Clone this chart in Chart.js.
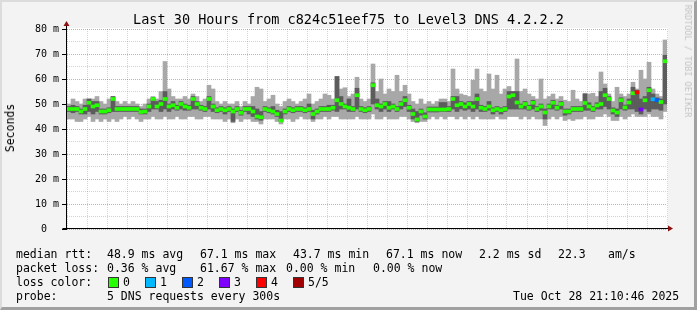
<!DOCTYPE html>
<html>
<head>
<meta charset="utf-8">
<script src="https://cdn.jsdelivr.net/npm/chart.js@4.4.0/dist/chart.umd.min.js"></script>
<style>
  body { margin: 0; background: #fff; }
  #wrap { position: relative; width: 697px; height: 310px; background: #f3f3f3; overflow: hidden;
          font-family: "DejaVu Sans Mono", monospace; color: #000; }
  #frame { position: absolute; left: 0; top: 0; width: 697px; height: 310px; box-sizing: border-box;
           border-top: 2px solid #dcdcdc; border-left: 2px solid #dcdcdc;
           border-right: 3px solid #a0a0a0; border-bottom: 3px solid #a0a0a0; pointer-events: none; }
  canvas { position: absolute; left: 0; top: 0; }
  .t { position: absolute; white-space: pre; font-size: 11.5px; line-height: 14px; }
  #title { position: absolute; left: 0; top: 11px; width: 697px; text-align: center; font-size: 13.5px; line-height: 16px; }
  #ylab { position: absolute; left: 10px; top: 127.5px; font-size: 11.5px; line-height: 14px; white-space: pre;
          transform: translate(-50%, -50%) rotate(-90deg); }
  #credit { position: absolute; left: 687.5px; top: 61px; font-size: 8.5px; line-height: 10px; white-space: pre; color: #c4c4c4;
            transform: translate(-50%, -50%) rotate(90deg); }
  .box { position: absolute; width: 9px; height: 9px; border: 1px solid #333; top: 277px; }
</style>
</head>
<body>
<div id="wrap">
  <canvas id="smoke" width="697" height="310"></canvas>
  <div id="title">Last 30 Hours from c824c51eef75 to Level3 DNS 4.2.2.2</div>
  <div id="ylab">Seconds</div>
  <div id="credit">RRDTOOL / TOBI OETIKER</div>

  <div class="t" style="left:16px;top:247px">median rtt:</div>
  <div class="t" style="left:107px;top:247px">48.9 ms avg</div>
  <div class="t" style="left:200px;top:247px">67.1 ms max</div>
  <div class="t" style="left:293px;top:247px">43.7 ms min</div>
  <div class="t" style="left:386px;top:247px">67.1 ms now</div>
  <div class="t" style="left:479px;top:247px">2.2 ms sd</div>
  <div class="t" style="left:558px;top:247px">22.3</div>
  <div class="t" style="left:608px;top:247px">am/s</div>

  <div class="t" style="left:16px;top:261px">packet loss:</div>
  <div class="t" style="left:107px;top:261px">0.36 % avg</div>
  <div class="t" style="left:200px;top:261px">61.67 % max</div>
  <div class="t" style="left:286px;top:261px">0.00 % min</div>
  <div class="t" style="left:373px;top:261px">0.00 % now</div>

  <div class="t" style="left:16px;top:275px">loss color:</div>
  <div id="lossLegend"></div>

  <div class="t" style="left:16px;top:289px">probe:</div>
  <div class="t" style="left:107px;top:289px">5 DNS requests every 300s</div>
  <div class="t" style="left:513px;top:289px">Tue Oct 28 21:10:46 2025</div>
  <div id="frame"></div>
</div>
<script>
// hours since Mon 00:00, one sample every 12 minutes
const tMin = 15 + 13 / 60
const tMax = tMin + 30
const stepH = 0.2

// median rtt (ms)
const med = [
  48, 48, 48, 47, 48, 50.5, 49, 49.5, 47, 47,
  47.5, 52, 48, 48, 48, 48, 48, 48, 46.8, 47,
  49, 52, 49, 50, 52, 49, 49.5, 48.5, 50, 49,
  48.5, 52, 50, 48.5, 48, 52, 49, 47.5, 48, 47.5,
  48, 47, 48, 46.5, 48, 48, 47, 45, 44.7, 48,
  47.5, 47, 46, 43.4, 47, 48, 47.5, 48, 48, 47.5,
  48, 46, 47, 48, 48, 48, 48.5, 51.5, 50, 49,
  48.5, 48, 53.5, 48, 47.5, 48, 57.5, 49.5, 49, 50,
  48.5, 49, 48, 50, 51.5, 48.5, 46, 43.8, 47, 45,
  47.8, 47.8, 47.8, 47.8, 47.8, 48, 52, 49.5, 50, 49,
  50, 49, 52, 48.5, 48, 49, 47.5, 48, 47.5, 48,
  53, 53.5, 50.6, 49, 50, 48.5, 50.5, 48, 49, 46.6,
  49, 50.5, 48.5, 50, 47, 47, 48, 48, 48, 50.4,
  49, 48, 49.4, 50, 53.5, 52, 47.4, 46.6, 51.5, 48.6,
  50.6, 54.3, 54.7, 47.8, 51.5, 55.5, 51.9, 51.5, 50.8, 67.1
]
// outer smoke (min / max ping)
const smokeHi = [
  50, 52, 51, 50, 52, 52, 52, 53, 51, 50,
  52, 53, 51, 50, 51, 50, 51, 50, 49, 50,
  52, 53, 52, 55, 67, 56, 53, 52, 52, 53,
  52, 54, 53, 51, 52, 57.5, 56, 51, 50, 51,
  50, 50, 51, 49, 51, 50, 53, 56.7, 56, 51,
  52, 53.5, 50, 49, 51, 52, 51, 50, 51, 52,
  54, 50, 51, 52, 54, 53.5, 52, 61, 56, 56.5,
  53, 54, 60.7, 52, 51, 52, 66, 55, 60, 54,
  56, 55, 61.5, 55, 57.5, 54, 51, 50, 52, 50,
  51, 50, 51, 52, 52, 51, 64, 56, 54, 53.5,
  53, 59.5, 64, 56, 55, 62, 56, 61.5, 54, 56,
  57, 55, 68, 55, 56, 54, 53, 52, 60, 52,
  53, 54, 52, 53, 51.5, 51, 55.5, 52, 51, 54.3,
  54, 54.3, 53, 62.8, 58, 54, 51, 56.7, 54, 53,
  54, 58.7, 56, 63.5, 60, 66.7, 56, 54, 53, 75.6
]
const smokeLo = [
  44, 44, 43, 43, 44, 45, 43, 44, 43, 44,
  43, 44, 43, 44, 45, 44, 45, 44, 43, 44,
  44, 45, 44, 44, 45, 44, 44, 45, 44, 44,
  45, 45, 44, 44, 45, 45, 44, 44, 44, 43,
  44, 42.5, 44, 43, 44, 44, 43, 43, 42, 44,
  44, 44, 43, 42, 44, 44, 43, 44, 45, 44,
  44, 43, 44, 44, 45, 44, 45, 45, 44, 44,
  44, 44, 45, 44, 44, 44, 46, 44, 44, 45,
  44, 44, 44, 45, 45, 44, 43, 42.5, 43, 43,
  44, 45, 44, 45, 44, 45, 45, 44, 45, 44,
  45, 44, 45, 44, 44, 44, 44, 45, 44, 44,
  45, 45, 45, 44, 45, 44, 45, 44, 44, 41.4,
  44, 45, 44, 45, 43.4, 44, 43.4, 44, 44, 45,
  44, 44, 45, 45, 46, 45, 43.4, 43.4, 45, 44,
  45, 46, 45, 45, 45, 46, 45, 45, 44, 47
]
// inner smoke (2nd / 4th ping)
const darkHi = [
  49, 49.5, 49, 48, 49.5, 52, 51, 51, 48, 48,
  48.5, 53, 49, 49, 49, 49, 49, 49, 48, 48,
  50, 52.5, 51, 51.5, 55, 50, 51, 49.5, 51, 50,
  49.5, 53, 51, 49.5, 49, 53, 50, 48.5, 49, 48.5,
  49, 48, 49, 47.5, 49, 49, 49, 48, 47, 49,
  48.5, 49, 47.5, 47, 48, 49, 48.5, 49, 49, 48.5,
  50, 47.5, 48, 49, 49, 49.5, 49.5, 61, 53, 50,
  52, 49, 56.3, 49, 48.5, 49, 58.5, 52, 50, 51,
  51, 50, 49, 51, 53, 49.5, 48, 47, 48, 46.5,
  48.8, 48.8, 48.8, 50.6, 50.6, 49, 53, 53, 51, 50.5,
  51, 51, 54, 49.5, 49, 51, 48.5, 49, 48.5, 49,
  55, 55, 55, 50, 51, 49.5, 51.5, 49, 50, 48,
  50, 51.5, 49.5, 51, 48, 48, 49, 49, 49, 54,
  50.5, 49, 50.5, 55, 56.3, 53, 48.5, 48, 52.5, 49.6,
  52, 56.7, 55.5, 52, 53, 56.7, 54, 52.5, 52, 69.5
]
const darkLo = [
  47, 46.5, 47, 46, 46, 47, 46, 47, 46, 46,
  46.5, 47, 47, 47, 47, 47, 47, 47, 46, 46,
  47, 48, 48, 47, 48, 47, 48, 47.5, 48, 47.5,
  47.5, 48, 48, 47.5, 47, 48, 47, 46.5, 47, 46,
  47, 43, 47, 45.5, 47, 46, 45, 44, 43.5, 47,
  46.5, 46, 45, 43, 46, 47, 46.5, 47, 47, 46.5,
  47, 44, 46, 47, 47, 47, 47.5, 47, 48, 48,
  47, 47, 48, 47, 46.5, 47, 50, 48, 47, 48,
  47, 48, 47, 48, 49, 47, 44, 43, 45.5, 44,
  46.8, 46.8, 46.8, 47, 47, 47, 48, 47, 48, 47.5,
  48, 47, 48, 47, 47, 47.5, 46, 47, 46, 47,
  48, 48, 48, 48, 48, 47.5, 48, 47, 47.5, 44,
  48, 48, 47.5, 48, 45.5, 46, 47, 47, 47, 47.5,
  47.5, 47, 48, 48, 49, 48, 46, 45, 48, 47.5,
  48, 48, 47, 46, 48, 47, 48, 48, 47.5, 50
]
// samples with packet loss (index, lost pings)
const lossIdx = [142, 143, 146, 147]
const lossCnt = [4, 3, 1, 2]
const lossLabels = ["0", "1", "2", "3", "4", "5/5"]
const lossColors = ["#26ff00", "#00b8ff", "#0059ff", "#7e00ff", "#ff0000", "#a10000"]

// legend swatches
const lossLegend = document.getElementById("lossLegend")
for (let k = 0; k < lossLabels.length; k++) {
  const b = document.createElement("div")
  b.className = "box"
  b.style.left = (108 + 37 * k) + "px"
  b.style.background = lossColors[k]
  lossLegend.appendChild(b)
  const s = document.createElement("div")
  s.className = "t"
  s.style.left = (123 + 37 * k) + "px"
  s.style.top = "275px"
  s.textContent = lossLabels[k]
  lossLegend.appendChild(s)
}

const hours = med.map((_, i) => tMin + (i + 0.5) * stepH)
const lossOf = (i) => {
  const j = lossIdx.indexOf(i)
  return j < 0 ? 0 : lossCnt[j]
}

const plotFrame = {
  id: "plotFrame",
  beforeDraw(chart) {
    const { ctx, chartArea: a } = chart
    ctx.save()
    ctx.fillStyle = "#fff"
    ctx.fillRect(a.left, a.top - 1, a.right - a.left + 1, a.bottom - a.top + 1)
    ctx.restore()
  },
  afterDraw(chart) {
    const { ctx, chartArea: a } = chart
    const x0 = Math.round(a.left) - 0.5
    const y0 = Math.round(a.bottom) - 0.5
    ctx.save()
    ctx.strokeStyle = "#000"
    ctx.lineWidth = 1
    ctx.beginPath()
    ctx.moveTo(x0, y0)
    ctx.lineTo(x0, a.top - 4)
    ctx.moveTo(x0 - 4, y0)
    ctx.lineTo(a.right + 2, y0)
    ctx.stroke()
    ctx.fillStyle = "#8b1010"
    ctx.beginPath()
    ctx.moveTo(x0 - 3, a.top - 3)
    ctx.lineTo(x0 + 3, a.top - 3)
    ctx.lineTo(x0, a.top - 8)
    ctx.fill()
    ctx.beginPath()
    ctx.moveTo(a.right + 1, y0 - 3)
    ctx.lineTo(a.right + 1, y0 + 3)
    ctx.lineTo(a.right + 6, y0)
    ctx.fill()
    ctx.restore()
  }
}

Chart.defaults.font.family = "DejaVu Sans Mono"
Chart.defaults.font.size = 10
Chart.defaults.color = "#000"

const barCommon = { grouped: false, barPercentage: 1, categoryPercentage: 1, borderWidth: 0 }

new Chart(document.getElementById("smoke"), {
  type: "bar",
  data: {
    datasets: [
      Object.assign({
        label: "median",
        data: hours.map((x, i) => ({ x: x, y: [med[i] - 0.6, med[i] + 0.6] })),
        backgroundColor: (c) => lossColors[lossOf(c.dataIndex)],
        order: 1
      }, barCommon),
      Object.assign({
        label: "inner",
        data: hours.map((x, i) => ({ x: x, y: [darkLo[i], darkHi[i]] })),
        backgroundColor: "#5c5c5c",
        order: 2
      }, barCommon),
      Object.assign({
        label: "outer",
        data: hours.map((x, i) => ({ x: x, y: [smokeLo[i], smokeHi[i]] })),
        backgroundColor: "#a8a8a8",
        order: 3
      }, barCommon)
    ]
  },
  options: {
    responsive: false,
    animation: false,
    devicePixelRatio: 1,
    layout: { padding: { left: 0, top: 29, right: 30, bottom: 61 } },
    plugins: { legend: { display: false }, tooltip: { enabled: false } },
    scales: {
      x: {
        type: "linear",
        min: tMin,
        max: tMax,
        offset: false,
        afterFit: (s) => { s.height = 20 },
        border: { display: false, dash: [1, 1] },
        grid: {
          offset: false,
          drawTicks: false,
          color: (c) => c.tick && c.tick.value % 3 === 0 ? "rgba(255,0,0,0.4)" : "rgba(128,128,128,0.35)"
        },
        ticks: {
          stepSize: 1,
          includeBounds: false,
          autoSkip: false,
          maxRotation: 0,
          padding: 4,
          callback: (v) => {
            if (v % 6 !== 0) return ""
            const hh = v % 24
            return (v < 24 ? "Mon " : "Tue ") + String(hh).padStart(2, "0") + ":00"
          }
        }
      },
      y: {
        min: 0,
        max: 80,
        afterFit: (s) => { s.width = 67 },
        border: { display: false, dash: [1, 1] },
        grid: {
          tickLength: 5,
          tickColor: (c) => c.tick && c.tick.value % 10 === 0 ? "#000" : "rgba(0,0,0,0)",
          color: (c) => c.tick && c.tick.value % 10 === 0 ? "rgba(255,0,0,0.4)" : "rgba(128,128,128,0.35)"
        },
        ticks: {
          stepSize: 5,
          autoSkip: false,
          padding: 3,
          callback: (v) => v % 10 !== 0 ? "" : (v === 0 ? "0  " : v + " m")
        }
      }
    }
  },
  plugins: [plotFrame]
})
</script>
</body>
</html>
